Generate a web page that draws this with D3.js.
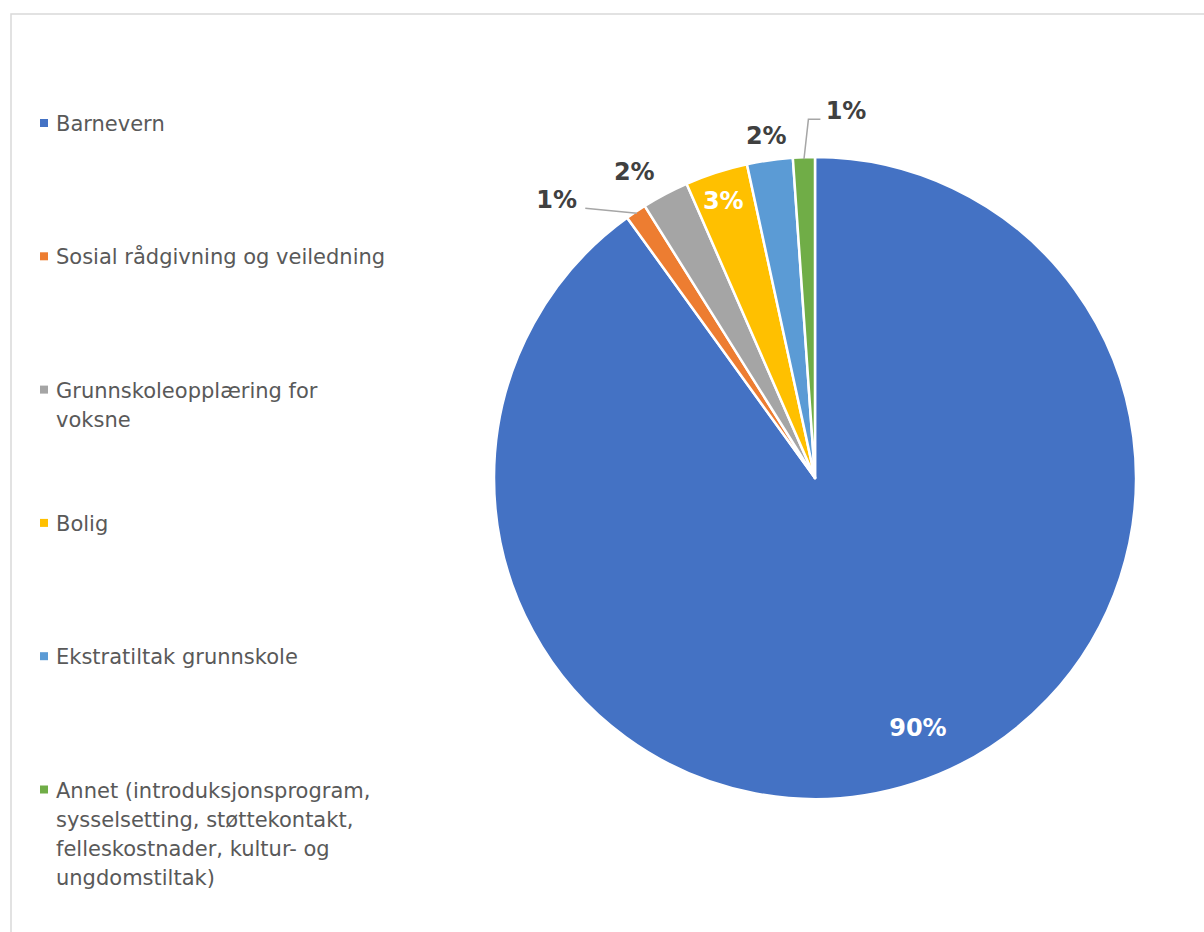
<!DOCTYPE html>
<html>
<head>
<meta charset="utf-8">
<script src="https://cdn.jsdelivr.net/npm/d3@7"></script>
<style>
  html, body { margin: 0; padding: 0; background: #fff; }
  svg { display: block; }
</style>
</head>
<body>
<svg id="chart" width="1204" height="932"></svg>
<script>
// ---- data ----
const categories = [
  "Barnevern",
  "Sosial rådgivning og veiledning",
  "Grunnskoleopplæring for voksne",
  "Bolig",
  "Ekstratiltak grunnskole",
  "Annet (introduksjonsprogram, sysselsetting, støttekontakt, felleskostnader, kultur- og ungdomstiltak)"
];
const values = [90.05, 1.05, 2.35, 3.15, 2.3, 1.1];
const dataLabels = ["90%", "1%", "2%", "3%", "2%", "1%"];
const legendLines = [
  ["Barnevern"],
  ["Sosial rådgivning og veiledning"],
  ["Grunnskoleopplæring for", "voksne"],
  ["Bolig"],
  ["Ekstratiltak grunnskole"],
  ["Annet (introduksjonsprogram,", "sysselsetting, støttekontakt,", "felleskostnader, kultur- og", "ungdomstiltak)"]
];
const colors = ["#4472C4", "#ED7D31", "#A5A5A5", "#FFC000", "#5B9BD5", "#70AD47"];

// ---- label layout (style, not data) ----
const labelInside = [true, false, false, true, false, false];
const labelRadius = [270, 380, 356, 292, 346, 369];
const labelShiftDeg = [-4.5, -8.9, -2.7, -0.4, 0, 6.8];
const hasLeader = [false, true, false, false, false, true];

const svg = d3.select("#chart");
const W = 1204, H = 932;

// chart border
svg.append("rect")
  .attr("x", 11).attr("y", 14)
  .attr("width", W + 20).attr("height", H + 20)
  .attr("fill", "#fff")
  .attr("stroke", "#d9d9d9").attr("stroke-width", 1.5);

// ---- pie ----
const cx = 815, cy = 478, R = 321;
const g = svg.append("g").attr("transform", `translate(${cx},${cy})`);
const pie = d3.pie().sort(null).value(d => d);
const arcs = pie(values);
const arc = d3.arc().innerRadius(0).outerRadius(R);

g.selectAll("path.slice")
  .data(arcs)
  .join("path")
  .attr("class", "slice")
  .attr("d", arc)
  .attr("fill", (d, i) => colors[i])
  .attr("stroke", "#fff")
  .attr("stroke-width", 2.5)
  .attr("stroke-linejoin", "round");

const toRad = Math.PI / 180;
function polar(r, a) { return [r * Math.sin(a), -r * Math.cos(a)]; }

const labelPos = arcs.map((d, i) => {
  const mid = (d.startAngle + d.endAngle) / 2 + labelShiftDeg[i] * toRad;
  return polar(labelRadius[i], mid);
});

// leader lines
const labelFont = 24;
arcs.forEach((d, i) => {
  if (!hasLeader[i]) return;
  const mid = (d.startAngle + d.endAngle) / 2;
  const edge = polar(R - 2, mid);
  const [lx, ly] = labelPos[i];
  const halfW = labelFont * 0.9;
  const yLine = ly + 9;
  let pts;
  if (lx < edge[0]) {
    pts = [[lx + halfW + 7, yLine], edge];
  } else {
    pts = [edge, [lx - halfW - 16, yLine], [lx - halfW - 4, yLine]];
  }
  g.append("path")
    .attr("d", d3.line()(pts))
    .attr("fill", "none")
    .attr("stroke", "#a6a6a6")
    .attr("stroke-width", 1.5);
});

g.selectAll("text.dlabel")
  .data(arcs)
  .join("text")
  .attr("class", "dlabel")
  .attr("x", (d, i) => labelPos[i][0])
  .attr("y", (d, i) => labelPos[i][1])
  .attr("dy", "0.35em")
  .attr("text-anchor", "middle")
  .attr("font-family", "'DejaVu Sans', Verdana, sans-serif")
  .attr("font-weight", "bold")
  .attr("font-size", labelFont)
  .attr("fill", (d, i) => labelInside[i] ? "#ffffff" : "#404040")
  .text((d, i) => dataLabels[i]);

// ---- legend ----
const legX = 40, legTextX = 56, legFirstBaseline = 131, legStep = 133.3, lineH = 29;
const legend = svg.append("g");
categories.forEach((c, i) => {
  const base = legFirstBaseline + i * legStep;
  legend.append("rect")
    .attr("x", legX).attr("y", base - 12)
    .attr("width", 8).attr("height", 8)
    .attr("fill", colors[i]);
  const t = legend.append("text")
    .attr("x", legTextX).attr("y", base)
    .attr("font-family", "'DejaVu Sans', Verdana, sans-serif")
    .attr("font-size", 21)
    .attr("fill", "#595959");
  legendLines[i].forEach((ln, j) => {
    t.append("tspan").attr("x", legTextX).attr("y", base + j * lineH).text(ln);
  });
});
</script>
</body>
</html>
